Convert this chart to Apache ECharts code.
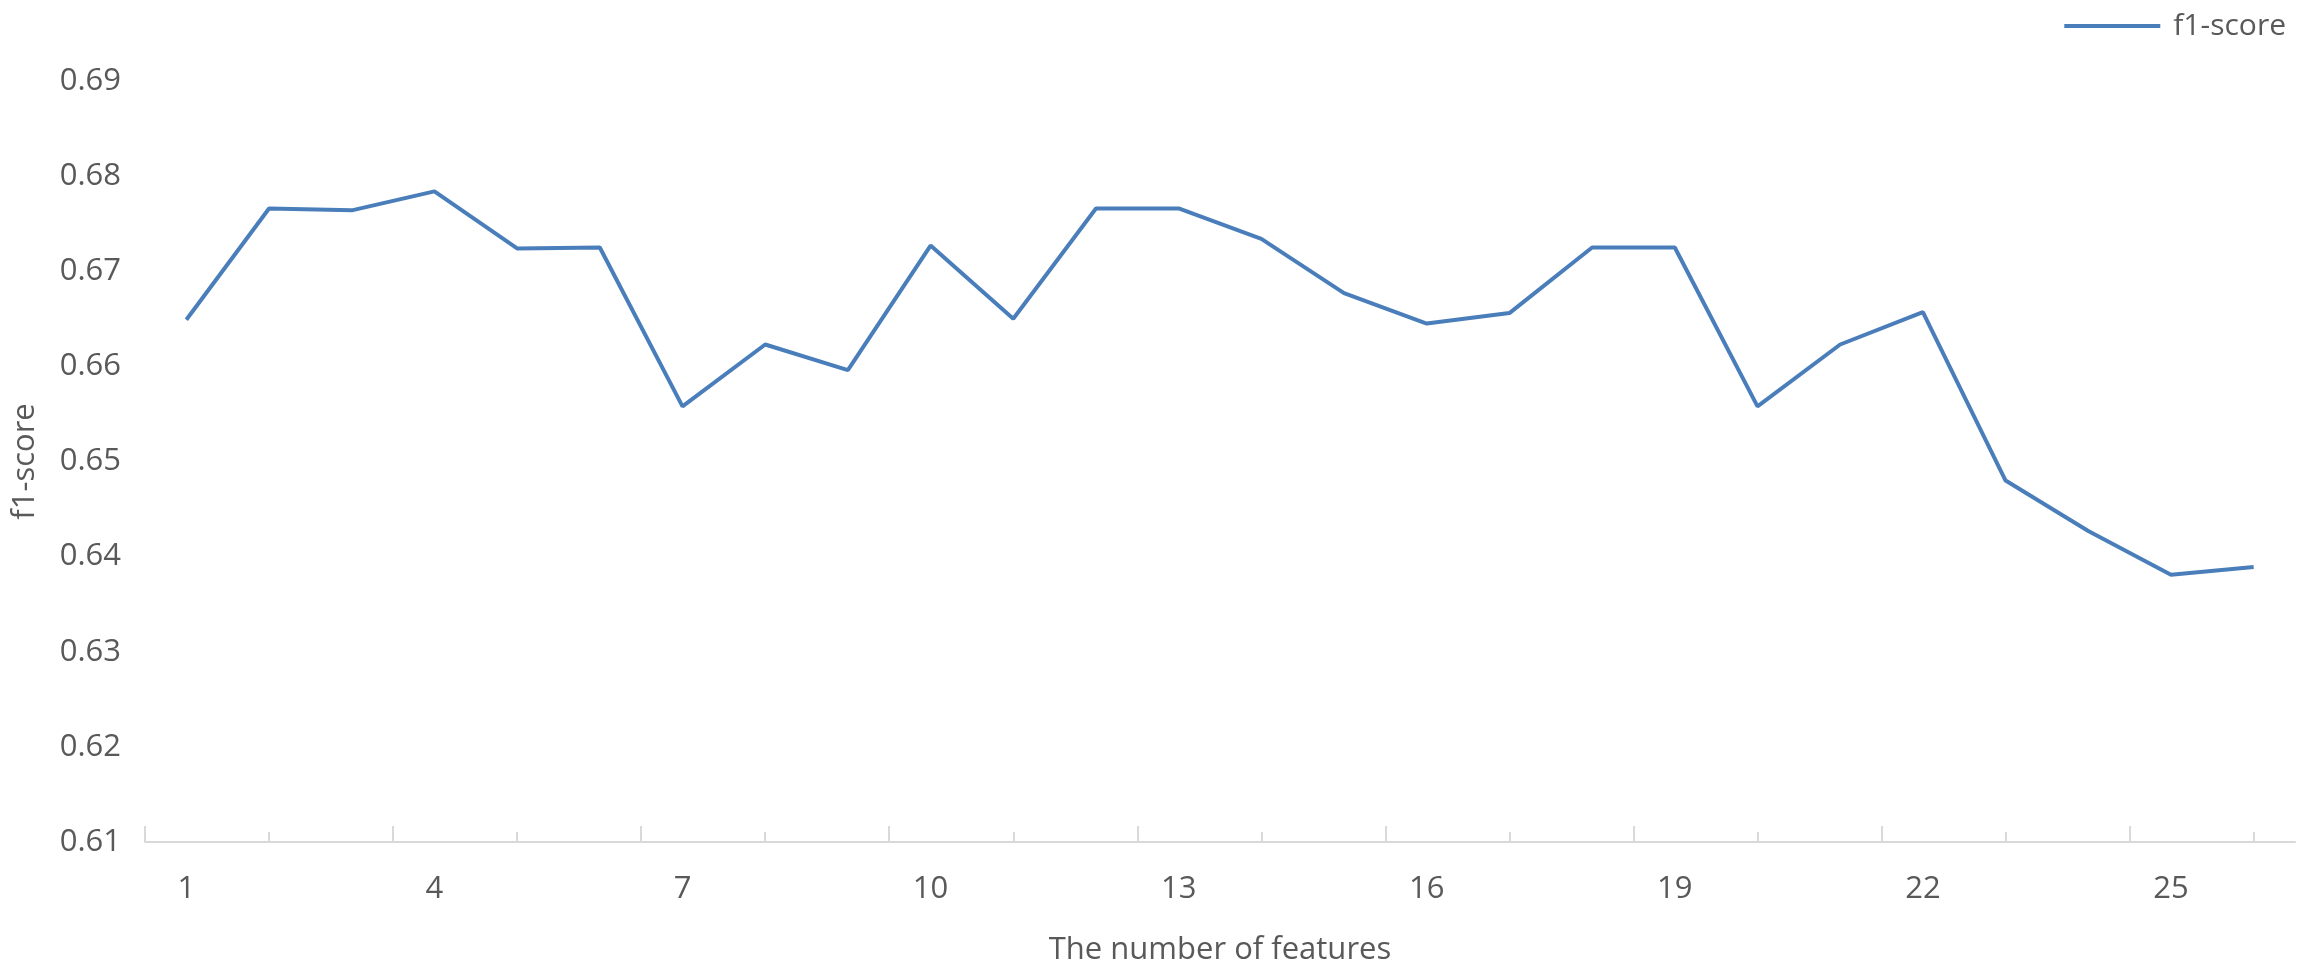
<!DOCTYPE html>
<html>
<head>
<meta charset="utf-8">
<title>f1-score</title>
<script src="https://cdn.jsdelivr.net/npm/echarts@6.0.0/dist/echarts.min.js"></script>
<style>
  html, body { margin: 0; padding: 0; background: #fff; }
  #chart { width: 2303px; height: 971px; }
</style>
</head>
<body>
<div id="chart"></div>
<script>
  // number of features
  var features = ['1', '2', '3', '4', '5', '6', '7', '8', '9', '10', '11', '12', '13',
    '14', '15', '16', '17', '18', '19', '20', '21', '22', '23', '24', '25', '26']

  // f1-score
  var f1Score = [0.6649, 0.6766, 0.6764, 0.6784, 0.6724, 0.6725, 0.6558, 0.6623, 0.6596,
    0.6727, 0.6650, 0.6766, 0.6766, 0.6734, 0.6677, 0.6645, 0.6656, 0.6725, 0.6725,
    0.6558, 0.6623, 0.6657, 0.6480, 0.6427, 0.6381, 0.6389]

  // tick marks on the x axis (in category widths from the left edge)
  var majorTicks = [0, 3, 6, 9, 12, 15, 18, 21, 24]
  var minorTicks = [1.5, 4.5, 7.5, 10.5, 13.5, 16.5, 19.5, 22.5, 25.5]

  var textColor = '#595959'
  var axisColor = '#d9d9d9'
  var lineColor = '#4a7ebb'
  var fontFamily = '"Open Sans", sans-serif'

  var tickAxis = function (ticks, len) {
    return {
      type: 'value',
      position: 'bottom',
      min: 0,
      max: 26,
      axisLine: { show: false },
      axisLabel: { show: false },
      splitLine: { show: false },
      axisTick: {
        show: true,
        inside: true,
        length: len,
        customValues: ticks,
        lineStyle: { color: axisColor, width: 2 }
      }
    }
  }

  var chart = echarts.init(document.getElementById('chart'))

  var option = {
    animation: false,
    textStyle: { fontFamily: fontFamily },
    legend: {
      right: 12,
      top: 6,
      icon: 'rect',
      itemWidth: 96,
      itemHeight: 4,
      itemStyle: { color: lineColor },
      textStyle: { color: textColor, fontSize: 30, padding: [0, 0, 0, 8], fontFamily: fontFamily },
      data: ['f1-score']
    },
    grid: {
      left: 145,
      right: 8,
      top: 81,
      bottom: 121
    },
    xAxis: [
      {
        type: 'category',
        position: 'bottom',
        data: features,
        boundaryGap: true,
        name: 'The number of features',
        nameLocation: 'middle',
        nameGap: 93,
        nameTextStyle: { color: textColor, fontSize: 31, fontFamily: fontFamily },
        axisLine: { lineStyle: { color: axisColor, width: 2 } },
        axisTick: { show: false },
        axisLabel: { interval: 2, color: textColor, fontSize: 31, margin: 32, fontFamily: fontFamily },
        splitLine: { show: false }
      },
      tickAxis(majorTicks, 16),
      tickAxis(minorTicks, 10)
    ],
    yAxis: {
      type: 'value',
      min: 0.61,
      max: 0.69,
      interval: 0.01,
      name: 'f1-score',
      nameLocation: 'middle',
      nameGap: 104,
      nameTextStyle: { color: textColor, fontSize: 31, fontFamily: fontFamily },
      axisLine: { show: false },
      axisTick: { show: false },
      splitLine: { show: false },
      axisLabel: {
        color: textColor,
        fontSize: 31,
        margin: 24,
        fontFamily: fontFamily,
        formatter: function (v) { return v.toFixed(2) }
      }
    },
    series: [
      {
        name: 'f1-score',
        type: 'line',
        xAxisIndex: 0,
        yAxisIndex: 0,
        data: f1Score,
        symbol: 'none',
        lineStyle: { color: lineColor, width: 4 },
        itemStyle: { color: lineColor }
      }
    ]
  }

  chart.setOption(option)
</script>
</body>
</html>
